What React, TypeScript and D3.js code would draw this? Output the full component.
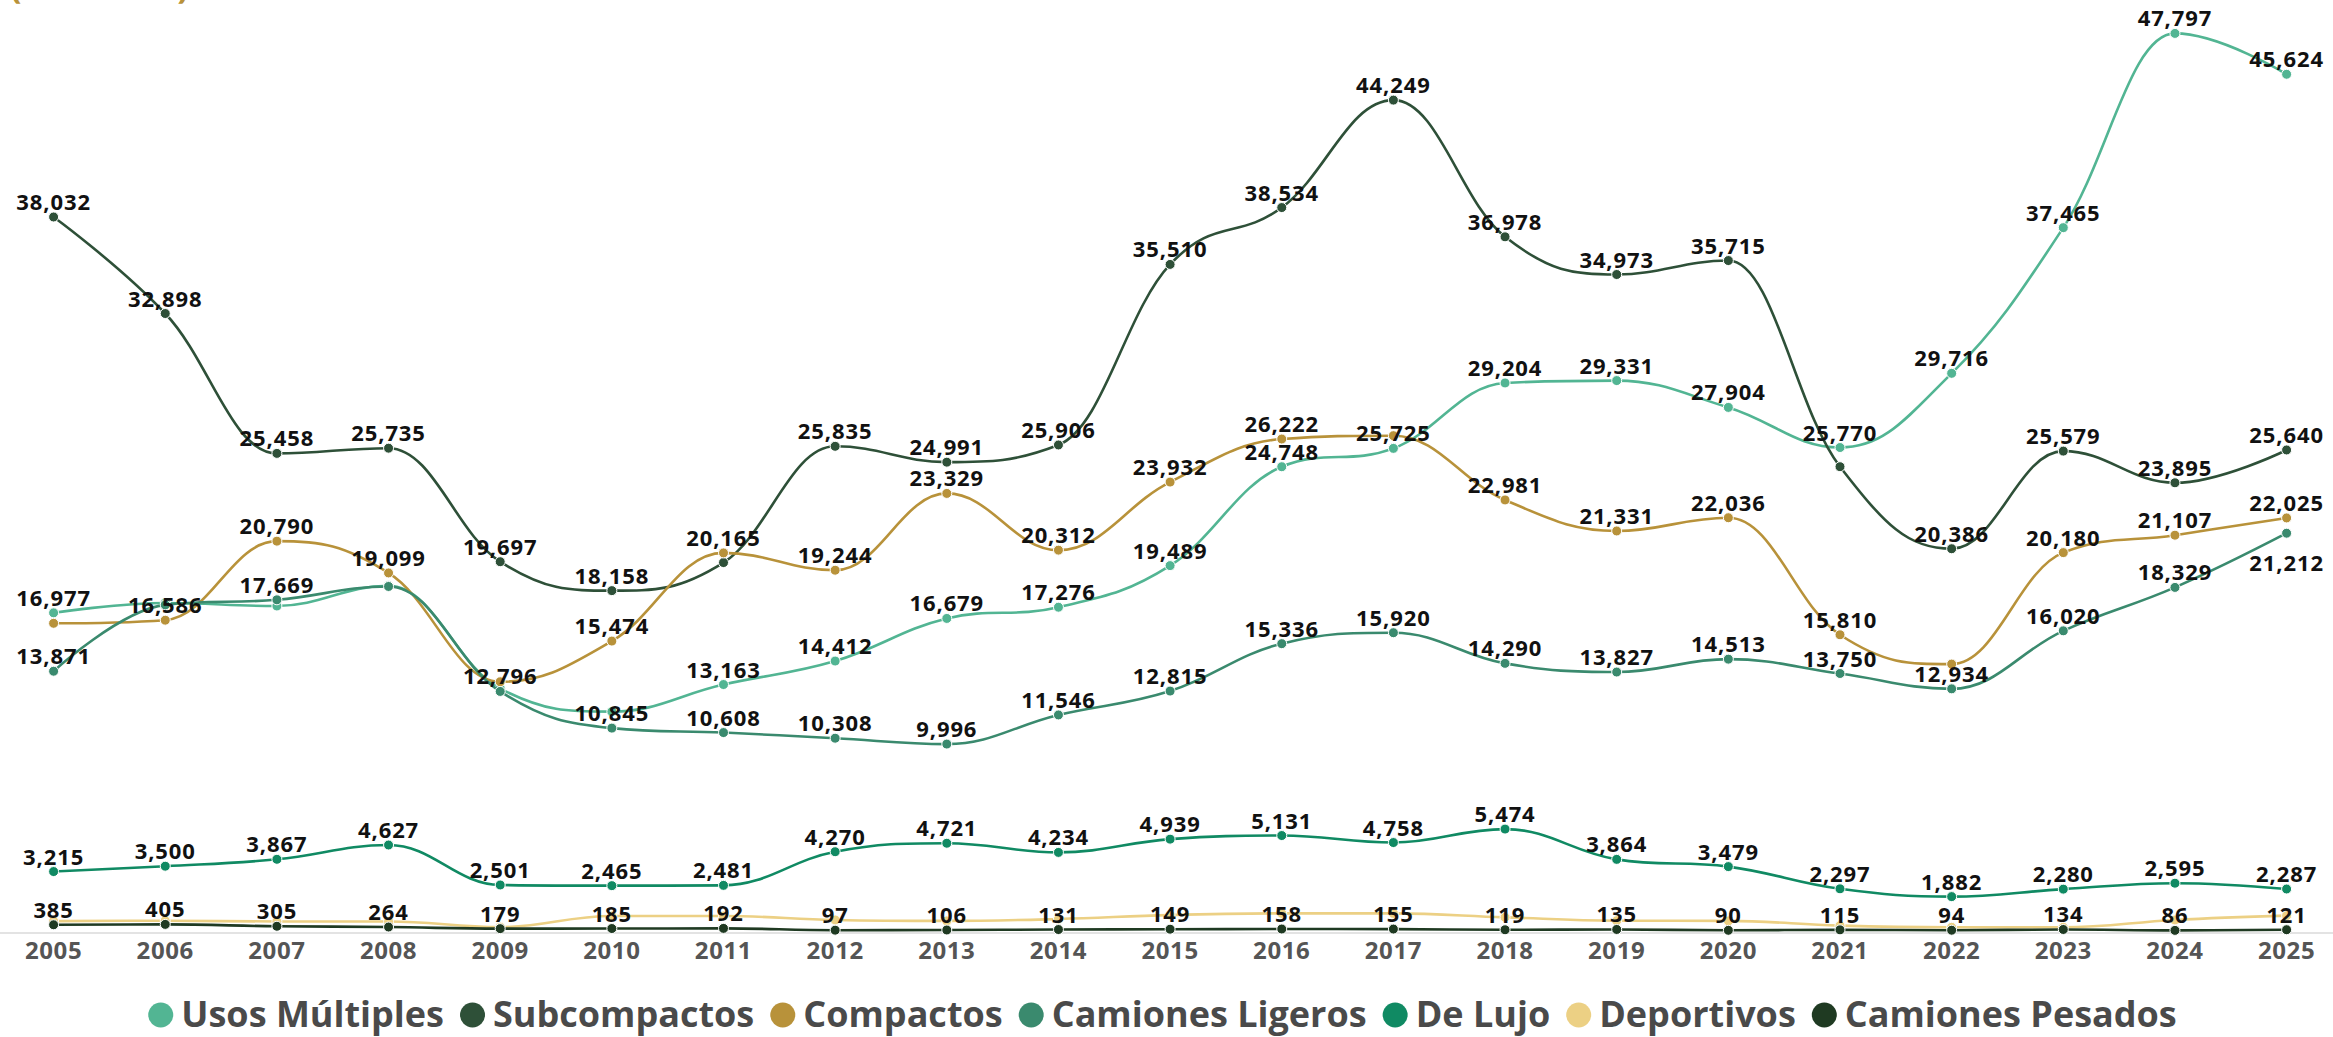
import React, { useMemo } from "react";
import * as d3 from "d3";

const years = [2005, 2006, 2007, 2008, 2009, 2010, 2011, 2012, 2013, 2014, 2015, 2016, 2017, 2018, 2019, 2020, 2021, 2022, 2023, 2024, 2025];

const usosMultiples = [16977, 17500, 17340, 18420, 12950, 11720, 13163, 14412, 16679, 17276, 19489, 24748, 25725, 29204, 29331, 27904, 25770, 29716, 37465, 47797, 45624];
const subcompactos = [38032, 32898, 25458, 25735, 19697, 18158, 19650, 25835, 24991, 25906, 35510, 38534, 44249, 36978, 34973, 35715, 24750, 20386, 25579, 23895, 25640];
const compactos = [16420, 16586, 20790, 19099, 13310, 15474, 20165, 19244, 23329, 20312, 23932, 26222, 26400, 22981, 21331, 22036, 15810, 14250, 20180, 21107, 22025];
const camionesLigeros = [13871, 17400, 17669, 18380, 12796, 10845, 10608, 10308, 9996, 11546, 12815, 15336, 15920, 14290, 13827, 14513, 13750, 12934, 16020, 18329, 21212];
const deLujo = [3215, 3500, 3867, 4627, 2501, 2465, 2481, 4270, 4721, 4234, 4939, 5131, 4758, 5474, 3864, 3479, 2297, 1882, 2280, 2595, 2287];
const deportivos = [580, 600, 560, 560, 260, 850, 850, 640, 590, 690, 900, 990, 990, 780, 600, 590, 340, 250, 250, 640, 870];
const camionesPesados = [385, 405, 305, 264, 179, 185, 192, 97, 106, 131, 149, 158, 155, 119, 135, 90, 115, 94, 134, 86, 121];

const seriesNames = ["Usos Múltiples", "Subcompactos", "Compactos", "Camiones Ligeros", "De Lujo", "Deportivos", "Camiones Pesados"];
const seriesColors = ["#52b593", "#2e5038", "#b8923a", "#3a8a6e", "#108a63", "#ecd084", "#1f3a22"];
const seriesValues = [usosMultiples, subcompactos, compactos, camionesLigeros, deLujo, deportivos, camionesPesados];

// indices (years) whose data label is hidden by overlap in the original
const hiddenLabels: number[][] = [
  [1, 2, 3, 4, 5],
  [6, 16],
  [0, 4, 12, 17],
  [1, 3],
  [],
  years.map((_, i) => i),
  [],
];
// labels drawn below their point
const belowLabels: number[][] = [[], [], [], [20], [], [], []];

const subtitle = "(unidades)";

const W = 2333;
const H = 1037;
const FONT = "'Open Sans', 'DejaVu Sans', sans-serif";

function highchartsSpline(pts: [number, number][]) {
  const smoothing = 1.5;
  const denom = smoothing + 1;
  const n = pts.length;
  const lc: ([number, number] | null)[] = new Array(n).fill(null);
  const rc: ([number, number] | null)[] = new Array(n).fill(null);
  for (let i = 1; i < n - 1; i++) {
    const [lastX, lastY] = pts[i - 1];
    const [plotX, plotY] = pts[i];
    const [nextX, nextY] = pts[i + 1];
    const leftContX = (smoothing * plotX + lastX) / denom;
    let leftContY = (smoothing * plotY + lastY) / denom;
    const rightContX = (smoothing * plotX + nextX) / denom;
    let rightContY = (smoothing * plotY + nextY) / denom;
    if (rightContX !== leftContX) {
      const correction = ((rightContY - leftContY) * (rightContX - plotX)) / (rightContX - leftContX) + plotY - rightContY;
      leftContY += correction;
      rightContY += correction;
      if (leftContY > lastY && leftContY > plotY) {
        leftContY = Math.max(lastY, plotY);
        rightContY = 2 * plotY - leftContY;
      } else if (leftContY < lastY && leftContY < plotY) {
        leftContY = Math.min(lastY, plotY);
        rightContY = 2 * plotY - leftContY;
      }
      if (rightContY > nextY && rightContY > plotY) {
        rightContY = Math.max(nextY, plotY);
        leftContY = 2 * plotY - rightContY;
      } else if (rightContY < nextY && rightContY < plotY) {
        rightContY = Math.min(nextY, plotY);
        leftContY = 2 * plotY - rightContY;
      }
    }
    lc[i] = [leftContX, leftContY];
    rc[i] = [rightContX, rightContY];
  }
  const p = d3.path();
  p.moveTo(pts[0][0], pts[0][1]);
  for (let i = 1; i < n; i++) {
    const c1 = rc[i - 1] || pts[i - 1];
    const c2 = lc[i] || pts[i];
    p.bezierCurveTo(c1[0], c1[1], c2[0], c2[1], pts[i][0], pts[i][1]);
  }
  return p.toString();
}

function measure(text: string, font: string) {
  const c = document.createElement("canvas");
  const ctx = c.getContext("2d")!;
  ctx.font = font;
  return ctx.measureText(text).width;
}

export default function App() {
  const x = d3.scalePoint<number>().domain(years).range([53.6, 2286.6]);
  const y = d3.scaleLinear().domain([0, 50000]).range([932, 932 - 50000 * 0.0188]);
  const fmt = d3.format(",");

  const legendFontSize = 36;
  const legendFont = `700 ${legendFontSize}px 'Open Sans'`;
  const legend = useMemo(() => {
    const r = 12.5;
    const gapAfterDot = 8;
    const gapItems = 16;
    const widths = seriesNames.map((n) => measure(n, legendFont));
    const total = widths.reduce((a, b) => a + b, 0) + seriesNames.length * (2 * r + gapAfterDot) + (seriesNames.length - 1) * gapItems;
    let cx = W / 2 - 4 - total / 2;
    return seriesNames.map((n, i) => {
      const item = { name: n, color: seriesColors[i], dotX: cx + r, textX: cx + 2 * r + gapAfterDot, r };
      cx += 2 * r + gapAfterDot + widths[i] + gapItems;
      return item;
    });
  }, []);

  return (
    <svg
      width={W}
      height={H}
      style={{ position: "absolute", left: 0, top: 0, background: "#fff" }}
      fontFamily={FONT}
    >
      <text x={10} y={-2} fontSize={34} fontWeight={700} fill="#b8923a">
        {subtitle}
      </text>

      {/* x axis */}
      <line x1={0} x2={W} y1={933} y2={933} stroke="#e3e3e3" strokeWidth={2} />
      {years.map((yr) => (
        <text key={yr} x={x(yr)} y={959} textAnchor="middle" fontSize={24} fontWeight={700} fill="#555" letterSpacing={0.6}>
          {yr}
        </text>
      ))}

      {/* series */}
      {seriesValues.map((vals, si) => {
        const pts = vals.map((v, i) => [x(years[i])!, y(v)] as [number, number]);
        return (
          <g key={si}>
            <path d={highchartsSpline(pts)} fill="none" stroke={seriesColors[si]} strokeWidth={2.6} strokeLinejoin="round" strokeLinecap="round" />
            {pts.map((p, i) => (
              <circle key={i} cx={p[0]} cy={p[1]} r={5} fill={seriesColors[si]} stroke="#fff" strokeWidth={1} />
            ))}
          </g>
        );
      })}

      {/* data labels */}
      {seriesValues.map((vals, si) => (
        <g key={"l" + si}>
          {vals.map((v, i) => {
            if (hiddenLabels[si].includes(i)) return null;
            const below = belowLabels[si].includes(i);
            return (
              <text
                key={i}
                x={x(years[i])}
                y={y(v) + (below ? 38 : -7)}
                textAnchor="middle"
                fontSize={22}
                fontWeight={700}
                fill="#111"
                letterSpacing={0.9}
              >
                {fmt(v)}
              </text>
            );
          })}
        </g>
      ))}

      {/* legend */}
      {legend.map((it) => (
        <g key={it.name}>
          <circle cx={it.dotX} cy={1015} r={it.r} fill={it.color} />
          <text x={it.textX} y={1027} fontSize={legendFontSize} fontWeight={700} fill="#4a4a4a" fontFamily="'Open Sans'">
            {it.name}
          </text>
        </g>
      ))}
    </svg>
  );
}
